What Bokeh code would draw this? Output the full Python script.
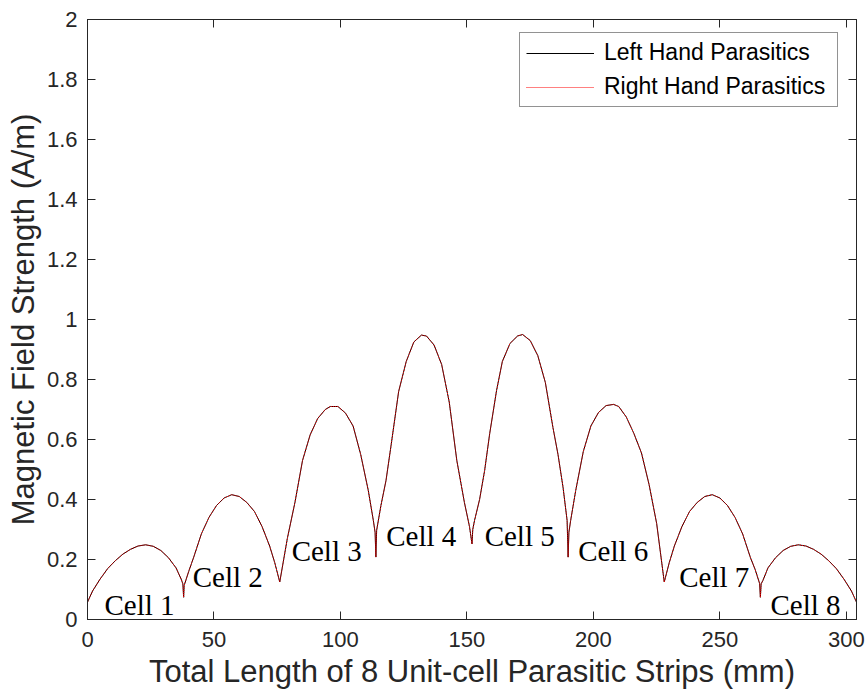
from bokeh.plotting import figure
from bokeh.models import (Range1d, FixedTicker, NumeralTickFormatter, LinearAxis, Legend,
                          LegendItem, ColumnDataSource, CustomJSTickFormatter)
from bokeh.core.properties import value
from bokeh.embed import file_html
from bokeh.resources import INLINE

# Position along the 8 unit-cell parasitic strips (mm)
length_mm = [
    0, 2, 5, 8, 11, 14, 17, 20, 23, 26, 29, 32, 35, 37, 37.7, 38,
    38.2, 40, 42, 45, 48, 51, 54, 57, 60, 63, 66, 69, 72, 74, 76,
    79, 82, 85, 88, 91, 94, 96, 99, 102, 105, 108, 111, 113, 113.7, 114,
    114.3, 116, 118, 120, 123, 126, 129, 132, 134, 137, 140, 143, 146, 149, 151, 152,
    152.3, 153, 155, 157, 159, 161.7, 164, 167, 170, 172, 175, 178, 181, 184, 186, 188, 189.6, 190,
    190.3, 191, 193, 196, 199, 202, 205, 208, 210, 213, 216, 219, 222, 225, 228,
    230, 232, 235, 238, 241, 244, 247, 250, 253, 256, 259, 262, 264, 265.7, 266,
    266.3, 267, 269, 272, 275, 278, 281, 284, 287, 290, 293, 296, 299, 302, 304,
]

# Magnetic field strength (A/m), left-hand parasitics
left_hand = [
    0.058, 0.095, 0.135, 0.170, 0.196, 0.218, 0.234, 0.245, 0.249, 0.244, 0.230, 0.206, 0.172, 0.135, 0.119, 0.074,
    0.113, 0.16, 0.208, 0.285, 0.34, 0.38, 0.405, 0.416, 0.41, 0.39, 0.36, 0.31, 0.245, 0.19, 0.125,
    0.27, 0.39, 0.53, 0.615, 0.67, 0.70, 0.71, 0.71, 0.688, 0.645, 0.55, 0.43, 0.33, 0.29, 0.208,
    0.297, 0.38, 0.463, 0.58, 0.76, 0.86, 0.925, 0.948, 0.945, 0.915, 0.85, 0.725, 0.53, 0.39, 0.31, 0.252,
    0.30, 0.33, 0.40, 0.497, 0.62, 0.763, 0.86, 0.92, 0.945, 0.95, 0.93, 0.88, 0.79, 0.64, 0.55, 0.44, 0.33, 0.208,
    0.29, 0.33, 0.43, 0.56, 0.645, 0.69, 0.713, 0.717, 0.71, 0.675, 0.62, 0.555, 0.45, 0.32, 0.125,
    0.19, 0.245, 0.31, 0.36, 0.39, 0.41, 0.416, 0.405, 0.38, 0.34, 0.285, 0.208, 0.165, 0.12, 0.074,
    0.119, 0.13, 0.172, 0.206, 0.230, 0.244, 0.249, 0.245, 0.234, 0.218, 0.196, 0.170, 0.135, 0.095, 0.058,
]

# Right-hand parasitics coincide with the left-hand ones
right_hand = list(left_hand)

cell_labels = ["Cell 1", "Cell 2", "Cell 3", "Cell 4", "Cell 5", "Cell 6", "Cell 7", "Cell 8"]
cell_label_x = [6.7, 41.6, 80.7, 118.1, 157.0, 194.0, 233.9, 270.0]
cell_label_y = [0.05, 0.141, 0.228, 0.28, 0.28, 0.23, 0.141, 0.05]

x_ticks = [0, 50, 100, 150, 200, 250, 300]
y_ticks = [0, 0.2, 0.4, 0.6, 0.8, 1, 1.2, 1.4, 1.6, 1.8, 2]

AX = "#262626"
SANS = "Liberation Sans"

p = figure(width=867, height=697, output_backend="svg", toolbar_location=None,
           x_range=Range1d(0, 304), y_range=Range1d(0, 2),
           min_border_left=87, min_border_right=11, min_border_top=19, min_border_bottom=78)
p.background_fill_color = "white"
p.border_fill_color = "white"
p.outline_line_color = AX
p.outline_line_width = 1
p.grid.visible = False

src = ColumnDataSource(dict(x=length_mm, yl=left_hand, yr=right_hand))
r1 = p.line("x", "yl", source=src, line_color="black", line_width=1)
r2 = p.line("x", "yr", source=src, line_color="#ff0000", line_width=1, line_dash="1 1")

lab = ColumnDataSource(dict(x=cell_label_x, y=cell_label_y, t=cell_labels))
p.text("x", "y", text="t", source=lab, text_font=value("Liberation Serif"),
       text_font_size="29px", text_color="black", text_align="left", text_baseline="alphabetic")

def style_axis(ax, show_labels=True):
    ax.axis_line_color = AX
    ax.major_tick_line_color = AX
    ax.major_tick_in = 8
    ax.major_tick_out = 0
    ax.minor_tick_line_color = None
    ax.major_label_text_font = SANS
    ax.major_label_text_color = AX
    ax.axis_label_text_font = SANS
    ax.axis_label_text_font_style = "normal"
    ax.axis_label_text_color = AX
    if show_labels:
        ax.major_label_text_font_size = "22px"
        ax.axis_label_text_font_size = "31px"
    else:
        ax.formatter = CustomJSTickFormatter(code="return ''")
        ax.major_label_text_font_size = "1px"
        ax.major_label_standoff = 0

xa = p.xaxis[0]
xa.ticker = FixedTicker(ticks=x_ticks)
xa.axis_label = "Total Length of 8 Unit-cell Parasitic Strips (mm)"
style_axis(xa)
xa.major_label_standoff = 12
xa.axis_label_standoff = 4

ya = p.yaxis[0]
ya.ticker = FixedTicker(ticks=y_ticks)
ya.formatter = NumeralTickFormatter(format="0.[0]")
ya.axis_label = "Magnetic Field Strength (A/m)"
style_axis(ya)
ya.major_label_standoff = 10
ya.axis_label_standoff = 3

top = LinearAxis(ticker=FixedTicker(ticks=x_ticks))
style_axis(top, False)
p.add_layout(top, "above")
right = LinearAxis(ticker=FixedTicker(ticks=y_ticks))
style_axis(right, False)
p.add_layout(right, "right")

legend = Legend(items=[LegendItem(label="Left Hand Parasitics", renderers=[r1]),
                       LegendItem(label="Right Hand Parasitics", renderers=[r2])],
                location=(432, 512))
legend.label_text_font = SANS
legend.label_text_font_size = "23px"
legend.label_text_color = "black"
legend.border_line_color = AX
legend.border_line_width = 1
legend.background_fill_color = "white"
legend.background_fill_alpha = 1
legend.padding = 6
legend.spacing = 7
legend.label_height = 26
legend.glyph_height = 26
legend.glyph_width = 68
legend.label_standoff = 10
legend.label_width = 227
legend.margin = 0
p.add_layout(legend, "center")

open("out.html", "w").write(file_html(p, INLINE))
